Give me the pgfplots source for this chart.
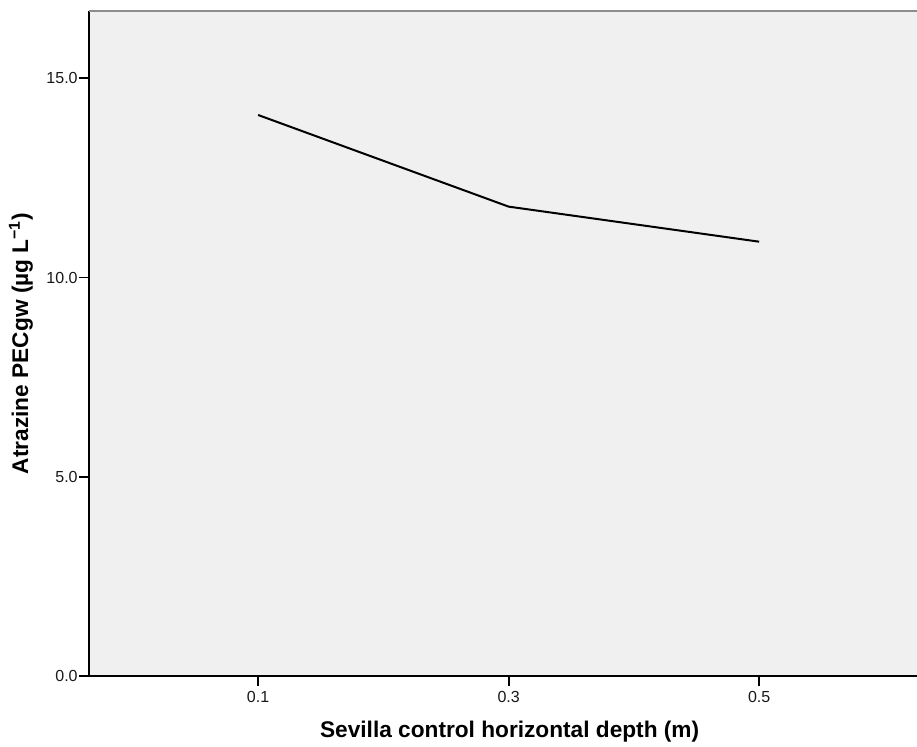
\documentclass[border=0pt]{standalone}
\usepackage{fontspec}
\setmainfont{Liberation Sans}
\usepackage{pgfplots}
\pgfplotsset{compat=1.18}
\definecolor{bgc}{RGB}{240,240,240}
\definecolor{topc}{RGB}{140,140,140}
\begin{document}
\begin{tikzpicture}
\begin{axis}[
  scale only axis,
  width=621pt, height=498.75pt,
  xmin=-0.675, xmax=2.63,
  ymin=0, ymax=16.69,
  axis x line*=bottom, axis y line*=left,
  axis line style={black, line width=1.3pt, -},
  axis background/.style={fill=bgc},
  xtick={0,1,2}, xticklabels={0.1,0.3,0.5},
  ytick={0,5,10,15},
  yticklabel style={/pgf/number format/fixed, /pgf/number format/fixed zerofill, /pgf/number format/precision=1, xshift=2.5pt},
  /pgf/number format/assume math mode=true,
  tick style={black, line width=1.3pt},
  tick align=outside,
  major tick length=7.5pt,
  ticklabel style={font=\fontsize{12pt}{14pt}\selectfont, text=black!90},
  xticklabel style={yshift=-0.5pt},
  xlabel={Sevilla control horizontal depth (m)},
  ylabel={Atrazine PECgw (µg L\textsuperscript{−1})},
  every axis x label/.style={at={(axis description cs:0.508,0)}, anchor=base, yshift=-45.75pt, font=\fontsize{17pt}{20pt}\selectfont\bfseries},
  every axis y label/.style={at={(axis description cs:0,0.5)}, xshift=-51pt, rotate=90, anchor=center, font=\fontsize{17pt}{20pt}\selectfont\bfseries},
  clip=false,
]
\addplot[black, line width=1.5pt] coordinates {(0,14.08) (1,11.78) (2,10.90)};
\draw[topc, line width=1.5pt] (rel axis cs:0,1) -- (rel axis cs:1,1);
\end{axis}
\pgfresetboundingbox
\path (-66.75pt,-52.5pt) rectangle (621pt,507pt);
\end{tikzpicture}
\end{document}
